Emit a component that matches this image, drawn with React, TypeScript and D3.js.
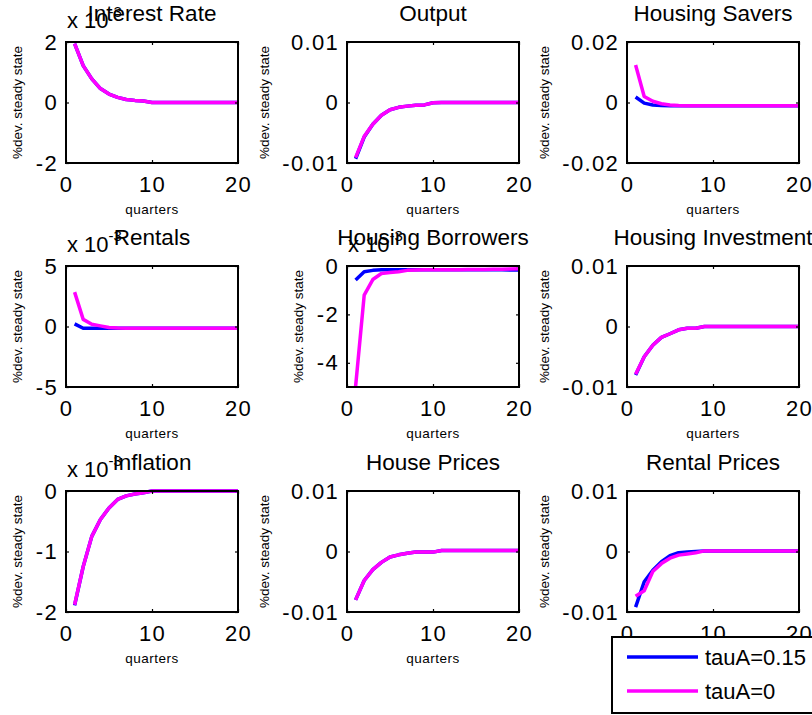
import * as d3 from "d3";
import { useEffect, useRef } from "react";

// impulse responses, quarters 1..20
const quarters = [1, 2, 3, 4, 5, 6, 7, 8, 9, 10, 11, 12, 13, 14, 15, 16, 17, 18, 19, 20];

const seriesNames = ["tauA=0.15", "tauA=0"];
const seriesColors = ["#0000ff", "#ff00ff"];

// x 10^-3
const interestRateA = [1.95, 1.22, 0.78, 0.46, 0.28, 0.17, 0.1, 0.07, 0.05, 0, 0, 0, 0, 0, 0, 0, 0, 0, 0, 0];
const interestRateB = [1.95, 1.22, 0.78, 0.46, 0.28, 0.17, 0.1, 0.07, 0.05, 0, 0, 0, 0, 0, 0, 0, 0, 0, 0, 0];

const outputA = [-0.0093, -0.0057, -0.0036, -0.0021, -0.0012, -0.0008, -0.0006, -0.00045, -0.0004, -0.00005, 0, 0, 0, 0, 0, 0, 0, 0, 0, 0];
const outputB = [-0.0091, -0.0056, -0.0036, -0.0021, -0.0012, -0.0008, -0.0006, -0.00045, -0.0004, -0.00005, 0, 0, 0, 0, 0, 0, 0, 0, 0, 0];

const housingSaversA = [0.0018, -0.0002, -0.0008, -0.001, -0.0011, -0.0011, -0.0011, -0.0011, -0.0011, -0.0011, -0.0011, -0.0011, -0.0011, -0.0011, -0.0011, -0.0011, -0.0011, -0.0011, -0.0011, -0.0011];
const housingSaversB = [0.0124, 0.002, 0.0004, -0.0004, -0.0008, -0.001, -0.0011, -0.0011, -0.0011, -0.0011, -0.0011, -0.0011, -0.0011, -0.0011, -0.0011, -0.0011, -0.0011, -0.0011, -0.0011, -0.0011];

// x 10^-3
const rentalsA = [0.22, -0.14, -0.14, -0.14, -0.14, -0.14, -0.14, -0.14, -0.14, -0.14, -0.14, -0.14, -0.14, -0.14, -0.14, -0.14, -0.14, -0.14, -0.14, -0.14];
const rentalsB = [2.84, 0.59, 0.19, 0.05, -0.08, -0.12, -0.14, -0.14, -0.14, -0.14, -0.14, -0.14, -0.14, -0.14, -0.14, -0.14, -0.14, -0.14, -0.14, -0.14];

// x 10^-3
const borrowersA = [-0.58, -0.24, -0.18, -0.16, -0.16, -0.16, -0.16, -0.16, -0.16, -0.16, -0.16, -0.16, -0.16, -0.16, -0.16, -0.16, -0.16, -0.16, -0.17, -0.17];
const borrowersB = [-4.98, -1.2, -0.56, -0.31, -0.27, -0.24, -0.18, -0.17, -0.16, -0.16, -0.15, -0.15, -0.15, -0.14, -0.14, -0.14, -0.13, -0.13, -0.12, -0.11];

const housingInvA = [-0.008, -0.005, -0.0031, -0.0018, -0.0012, -0.00055, -0.0003, -0.0003, 0, 0, 0, 0, 0, 0, 0, 0, 0, 0, 0, 0];
const housingInvB = [-0.0079, -0.005, -0.0031, -0.0018, -0.0012, -0.00055, -0.0003, -0.0003, 0, 0, 0, 0, 0, 0, 0, 0, 0, 0, 0, 0];

// x 10^-3
const inflationA = [-1.89, -1.25, -0.75, -0.47, -0.28, -0.14, -0.08, -0.05, -0.03, 0, 0, 0, 0, 0, 0, 0, 0, 0, 0, 0];
const inflationB = [-1.88, -1.25, -0.75, -0.47, -0.28, -0.14, -0.08, -0.05, -0.03, 0, 0, 0, 0, 0, 0, 0, 0, 0, 0, 0];

const housePricesA = [-0.008, -0.0048, -0.003, -0.0018, -0.0009, -0.00055, -0.0003, -0.0001, -0.0001, -0.0001, 0.00015, 0.00015, 0.00015, 0.00015, 0.00015, 0.00015, 0.00015, 0.00015, 0.00015, 0.00015];
const housePricesB = [-0.008, -0.0048, -0.003, -0.0018, -0.0009, -0.00055, -0.0003, -0.0001, -0.0001, -0.0001, 0.00015, 0.00015, 0.00015, 0.00015, 0.00015, 0.00015, 0.00015, 0.00015, 0.00015, 0.00015];

const rentalPricesA = [-0.0092, -0.005, -0.0031, -0.0017, -0.0007, -0.0002, -0.0001, 0, 0.0001, 0.0001, 0.0001, 0.0001, 0.0001, 0.0001, 0.0001, 0.0001, 0.0001, 0.0001, 0.0001, 0.0001];
const rentalPricesB = [-0.0074, -0.0065, -0.0033, -0.002, -0.0011, -0.0006, -0.0004, -0.0002, 0.0001, 0.0001, 0.0001, 0.0001, 0.0001, 0.0001, 0.0001, 0.0001, 0.0001, 0.0001, 0.0001, 0.0001];

const titles = [
  "Interest Rate", "Output", "Housing Savers",
  "Rentals", "Housing Borrowers", "Housing Investment",
  "Inflation", "House Prices", "Rental Prices",
];
const exponents = ["-3", null, null, "-3", "-3", null, "-3", null, null];
const yDomains = [[-2, 2], [-0.01, 0.01], [-0.02, 0.02], [-5, 5], [-5, 0], [-0.01, 0.01], [-2, 0], [-0.01, 0.01], [-0.01, 0.01]];
const yTicks = [[-2, 0, 2], [-0.01, 0, 0.01], [-0.02, 0, 0.02], [-5, 0, 5], [-4, -2, 0], [-0.01, 0, 0.01], [-2, -1, 0], [-0.01, 0, 0.01], [-0.01, 0, 0.01]];
const xTicks = [0, 10, 20];
const seriesA = [interestRateA, outputA, housingSaversA, rentalsA, borrowersA, housingInvA, inflationA, housePricesA, rentalPricesA];
const seriesB = [interestRateB, outputB, housingSaversB, rentalsB, borrowersB, housingInvB, inflationB, housePricesB, rentalPricesB];

const colLefts = [66, 347, 627];
const rowTops = [42, 266, 491];
const W = 172;
const H = 121;
const FONT = "'Liberation Sans', Arial, sans-serif";

export default function App() {
  const svgRef = useRef<SVGSVGElement>(null);

  useEffect(() => {
    const svg = d3.select(svgRef.current);
    svg.selectAll("*").remove();

    titles.forEach((title, i) => {
      const left = colLefts[i % 3];
      const top = rowTops[Math.floor(i / 3)];
      const g = svg.append("g").attr("transform", `translate(${left},${top})`);

      const x = d3.scaleLinear().domain([0, 20]).range([0, W]);
      const y = d3.scaleLinear().domain(yDomains[i]).range([H, 0]);

      g.append("rect").attr("width", W).attr("height", H).attr("fill", "white");

      // lines
      const line = d3
        .line<number>()
        .x((d, k) => x(quarters[k]))
        .y((d) => y(d));
      [seriesA[i], seriesB[i]].forEach((s, k) => {
        g.append("path")
          .datum(s)
          .attr("d", line)
          .attr("fill", "none")
          .attr("stroke", seriesColors[k])
          .attr("stroke-width", 3.5)
          .attr("stroke-linejoin", "round");
      });

      // axes
      const yAxis = g
        .append("g")
        .call(d3.axisLeft(y).tickValues(yTicks[i]).tickSize(-3).tickPadding(8).tickFormat((d) => String(d)));
      g.append("g")
        .attr("transform", `translate(${W},0)`)
        .call(d3.axisRight(y).tickValues(yTicks[i]).tickSize(-3).tickFormat(() => ""));
      g.append("g")
        .attr("transform", `translate(0,${H})`)
        .call(d3.axisBottom(x).tickValues(xTicks).tickSize(-3).tickPadding(13).tickFormat((d) => String(d)));
      g.append("g")
        .call(d3.axisTop(x).tickValues(xTicks).tickSize(-3).tickFormat(() => ""));
      g.selectAll(".domain").remove();
      g.selectAll(".tick line").attr("stroke", "black").attr("stroke-width", 1.2);
      g.selectAll(".tick text")
        .attr("font-size", 22)
        .attr("letter-spacing", 1.3)
        .attr("font-family", FONT)
        .attr("fill", "black");

      g.append("rect")
        .attr("width", W)
        .attr("height", H)
        .attr("fill", "none")
        .attr("stroke", "black")
        .attr("stroke-width", 2);

      // labels
      g.append("text")
        .attr("x", W / 2)
        .attr("y", -21)
        .attr("text-anchor", "middle")
        .attr("font-family", FONT)
        .attr("font-size", 22.5)
        .text(title);

      const bb = (yAxis.node() as SVGGElement).getBBox();
      const cx = bb.x - 17;
      g.append("text")
        .attr("transform", `translate(${cx + 3.5},${H / 2}) rotate(-90)`)
        .attr("text-anchor", "middle")
        .attr("font-family", FONT)
        .attr("font-size", 13.5)
        .text("%dev. steady state");

      g.append("text")
        .attr("x", W / 2)
        .attr("y", H + 51)
        .attr("text-anchor", "middle")
        .attr("font-family", FONT)
        .attr("font-size", 13.5)
        .attr("letter-spacing", 0.5)
        .text("quarters");

      if (exponents[i]) {
        const t = g
          .append("text")
          .attr("x", 1)
          .attr("y", -14)
          .attr("font-family", FONT)
          .attr("font-size", 22);
        t.append("tspan").text("x 10");
        t.append("tspan").attr("dy", -11).attr("font-size", 15).text(exponents[i]);
      }
    });

    // legend
    const lg = svg.append("g").attr("transform", "translate(612,637)");
    lg.append("rect")
      .attr("width", 210)
      .attr("height", 76)
      .attr("fill", "white")
      .attr("stroke", "black")
      .attr("stroke-width", 2);
    seriesNames.forEach((name, k) => {
      const ly = 20 + k * 34;
      lg.append("line")
        .attr("x1", 15)
        .attr("x2", 86)
        .attr("y1", ly)
        .attr("y2", ly)
        .attr("stroke", seriesColors[k])
        .attr("stroke-width", 3.5);
      lg.append("text")
        .attr("x", 93)
        .attr("y", ly + 7.5)
        .attr("font-family", FONT)
        .attr("font-size", 22)
        .text(name);
    });
  }, []);

  return (
    <svg
      ref={svgRef}
      width={812}
      height={715}
      style={{ position: "absolute", left: 0, top: 0, background: "white" }}
    ></svg>
  );
}
